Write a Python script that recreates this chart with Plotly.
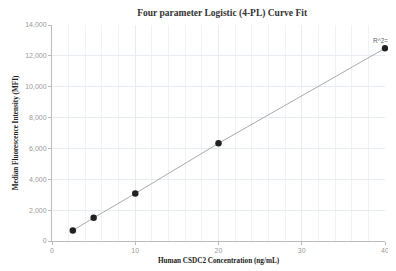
import plotly.graph_objects as go

conc = [2.5, 5, 10, 20, 40]
mfi = [680, 1500, 3080, 6330, 12490]
x_ticks = [0, 10, 20, 30, 40]
y_ticks = [0, 2000, 4000, 6000, 8000, 10000, 12000, 14000]
title = "Four parameter Logistic (4-PL) Curve Fit"
x_title = "Human CSDC2 Concentration (ng/mL)"
y_title = "Median Fluorescence Intensity (MFI)"
r2_label = "R^2=1"

fig = go.Figure()
fig.add_trace(go.Scatter(
    x=conc, y=mfi, mode="lines+markers",
    line=dict(color="#aaaaaa", width=1),
    marker=dict(color="#222222", size=6.5),
    showlegend=False, hoverinfo="x+y", cliponaxis=False,
))
fig.add_annotation(x=conc[-1], y=mfi[-1], text=r2_label, showarrow=False,
                   yshift=8, xshift=-3,
                   font=dict(family="Arial, Liberation Sans", size=6.5, color="#666666"))

# page has an 8px body margin, so the figure is sized/offset to compensate
fig.update_layout(
    width=388, height=263,
    margin=dict(l=44, r=11, t=17, b=30, autoexpand=False),
    paper_bgcolor="white", plot_bgcolor="white",
    title=dict(text="<b>" + title + "</b>", x=0.552, xanchor="center", y=0.982, yanchor="middle",
               font=dict(family="Liberation Serif, Times New Roman, serif", size=9.5, color="#333333")),
    xaxis=dict(
        range=[0, 40], tickvals=x_ticks, ticktext=[str(v) for v in x_ticks],
        automargin=False,
        showline=True, linecolor="#bbbbbb", linewidth=1,
        ticks="outside", ticklen=3, tickcolor="#bbbbbb",
        showgrid=True, gridcolor="#e6ecf2", gridwidth=1,
        minor=dict(dtick=2, showgrid=True, gridcolor="#f0f3f6", gridwidth=1),
        zeroline=False,
        tickfont=dict(family="Arial, Liberation Sans", size=7, color="#999999"),
        title=dict(text="<b>" + x_title + "</b>", standoff=4,
                   font=dict(family="Liberation Serif, Times New Roman, serif", size=7.2, color="#222222")),
    ),
    yaxis=dict(
        range=[0, 14000], tickvals=y_ticks, tickformat=",",
        automargin=False,
        showline=True, linecolor="#bbbbbb", linewidth=1,
        ticks="outside", ticklen=3, tickcolor="#bbbbbb",
        showgrid=True, gridcolor="#e6ecf2", gridwidth=1,
        zeroline=False,
        tickfont=dict(family="Arial, Liberation Sans", size=7, color="#999999"),
        title=dict(text="<b>" + y_title + "</b>", standoff=5,
                   font=dict(family="Liberation Serif, Times New Roman, serif", size=7.2, color="#222222")),
    ),
)

fig.write_html("out.html")
